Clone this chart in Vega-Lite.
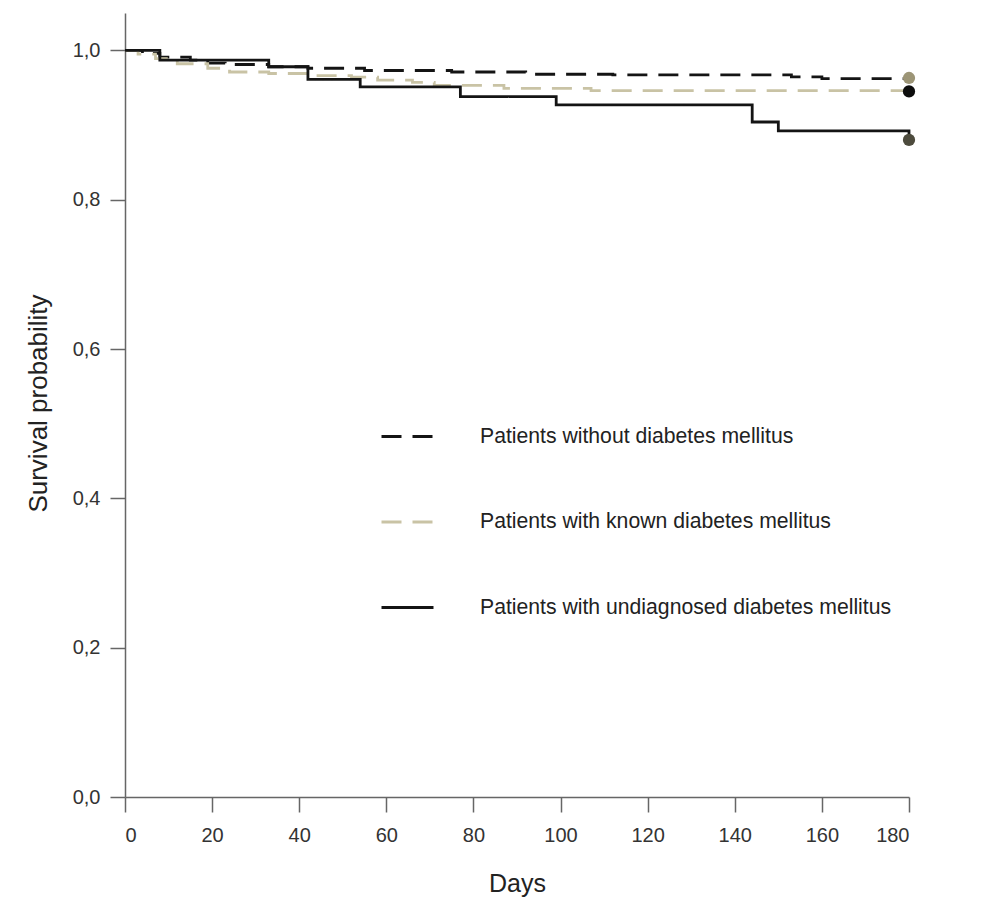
{
  "$schema": "https://vega.github.io/schema/vega-lite/v6.json",
  "width": 784,
  "height": 784,
  "autosize": {"type": "none"},
  "padding": {"left": 125, "top": 13, "right": 73, "bottom": 115},
  "background": "white",
  "config": {
    "view": {"stroke": null},
    "font": "Liberation Sans",
    "axis": {"labelFont": "Liberation Sans", "titleFont": "Liberation Sans"},
    "legend": {"labelFont": "Liberation Sans"}
  },
  "datasets": {
    "curves": [
      {"group": "Patients without diabetes mellitus", "day": 0, "p": 1.0},
      {"group": "Patients without diabetes mellitus", "day": 4, "p": 0.996},
      {"group": "Patients without diabetes mellitus", "day": 8, "p": 0.991},
      {"group": "Patients without diabetes mellitus", "day": 15, "p": 0.987},
      {"group": "Patients without diabetes mellitus", "day": 19, "p": 0.983},
      {"group": "Patients without diabetes mellitus", "day": 23, "p": 0.981},
      {"group": "Patients without diabetes mellitus", "day": 33, "p": 0.978},
      {"group": "Patients without diabetes mellitus", "day": 42, "p": 0.976},
      {"group": "Patients without diabetes mellitus", "day": 55, "p": 0.973},
      {"group": "Patients without diabetes mellitus", "day": 75, "p": 0.971},
      {"group": "Patients without diabetes mellitus", "day": 92, "p": 0.968},
      {"group": "Patients without diabetes mellitus", "day": 112, "p": 0.967},
      {"group": "Patients without diabetes mellitus", "day": 153, "p": 0.9645},
      {"group": "Patients without diabetes mellitus", "day": 160, "p": 0.962},
      {"group": "Patients without diabetes mellitus", "day": 180, "p": 0.963},
      {"group": "Patients with known diabetes mellitus", "day": 0, "p": 1.0},
      {"group": "Patients with known diabetes mellitus", "day": 3, "p": 0.995},
      {"group": "Patients with known diabetes mellitus", "day": 7, "p": 0.989},
      {"group": "Patients with known diabetes mellitus", "day": 12, "p": 0.982},
      {"group": "Patients with known diabetes mellitus", "day": 19, "p": 0.976},
      {"group": "Patients with known diabetes mellitus", "day": 24, "p": 0.971},
      {"group": "Patients with known diabetes mellitus", "day": 33, "p": 0.969},
      {"group": "Patients with known diabetes mellitus", "day": 42, "p": 0.966},
      {"group": "Patients with known diabetes mellitus", "day": 52, "p": 0.964},
      {"group": "Patients with known diabetes mellitus", "day": 58, "p": 0.96},
      {"group": "Patients with known diabetes mellitus", "day": 66, "p": 0.957},
      {"group": "Patients with known diabetes mellitus", "day": 71, "p": 0.953},
      {"group": "Patients with known diabetes mellitus", "day": 87, "p": 0.949},
      {"group": "Patients with known diabetes mellitus", "day": 107, "p": 0.946},
      {"group": "Patients with known diabetes mellitus", "day": 180, "p": 0.945},
      {"group": "Patients with undiagnosed diabetes mellitus", "day": 0, "p": 1.0},
      {"group": "Patients with undiagnosed diabetes mellitus", "day": 8, "p": 0.987},
      {"group": "Patients with undiagnosed diabetes mellitus", "day": 33, "p": 0.978},
      {"group": "Patients with undiagnosed diabetes mellitus", "day": 42, "p": 0.961},
      {"group": "Patients with undiagnosed diabetes mellitus", "day": 54, "p": 0.951},
      {"group": "Patients with undiagnosed diabetes mellitus", "day": 77, "p": 0.938},
      {"group": "Patients with undiagnosed diabetes mellitus", "day": 99, "p": 0.927},
      {"group": "Patients with undiagnosed diabetes mellitus", "day": 144, "p": 0.904},
      {"group": "Patients with undiagnosed diabetes mellitus", "day": 150, "p": 0.892},
      {"group": "Patients with undiagnosed diabetes mellitus", "day": 180, "p": 0.88}
    ],
    "ends": [
      {"group": "Patients without diabetes mellitus", "day": 180, "p": 0.963},
      {"group": "Patients with known diabetes mellitus", "day": 180, "p": 0.945},
      {"group": "Patients with undiagnosed diabetes mellitus", "day": 180, "p": 0.88}
    ]
  },
  "layer": [
    {
      "data": {"name": "curves"},
      "mark": {"type": "line", "interpolate": "step-after", "strokeWidth": 2.8},
      "encoding": {
        "x": {
          "field": "day", "type": "quantitative",
          "scale": {"domain": [0, 180], "nice": false, "zero": false},
          "axis": {
            "values": [0, 20, 40, 60, 80, 100, 120, 140, 160, 180],
            "format": "d", "grid": false,
            "tickSize": 15, "tickWidth": 1.5, "tickColor": "#666",
            "domainColor": "#666", "domainWidth": 1.5,
            "labelFontSize": 20, "labelColor": "#333", "labelPadding": 13,
            "title": "Days", "titleFontSize": 25, "titleFontWeight": "normal", "titleColor": "#222",
            "titleY": 74, "titleBaseline": "top"
          }
        },
        "y": {
          "field": "p", "type": "quantitative",
          "scale": {"domain": [0, 1.05], "nice": false},
          "axis": {
            "values": [0, 0.2, 0.4, 0.6, 0.8, 1.0],
            "labelExpr": "replace(format(datum.value, '.1f'), '.', ',')",
            "grid": false,
            "tickSize": 15, "tickWidth": 1.5, "tickColor": "#666",
            "domainColor": "#666", "domainWidth": 1.5,
            "labelFontSize": 20, "labelColor": "#333", "labelPadding": 10,
            "title": "Survival probability", "titleFontSize": 26, "titleFontWeight": "normal", "titleColor": "#222",
            "titleX": -87, "titleY": 390, "titleBaseline": "middle", "titleAngle": -90, "titleAlign": "center"
          }
        },
        "color": {
          "field": "group", "type": "nominal",
          "scale": {
            "domain": ["Patients without diabetes mellitus", "Patients with known diabetes mellitus", "Patients with undiagnosed diabetes mellitus"],
            "range": ["#141414", "#c9c3a5", "#141414"]
          },
          "legend": {
            "orient": "none", "legendX": 255, "legendY": 396, "title": null,
            "symbolType": "stroke", "symbolSize": 2704, "symbolStrokeWidth": 3,
            "labelFontSize": 21.2, "labelColor": "#222", "labelOffset": 45, "rowPadding": 47.5,
            "padding": 0, "labelLimit": 700
          }
        },
        "strokeDash": {
          "field": "group", "type": "nominal",
          "scale": {
            "domain": ["Patients without diabetes mellitus", "Patients with known diabetes mellitus", "Patients with undiagnosed diabetes mellitus"],
            "range": [[20, 11], [20, 11], [1, 0]]
          },
          "legend": {
            "orient": "none", "legendX": 255, "legendY": 396, "title": null,
            "symbolType": "stroke", "symbolSize": 2704, "symbolStrokeWidth": 3,
            "labelFontSize": 21.2, "labelColor": "#222", "labelOffset": 45, "rowPadding": 47.5,
            "padding": 0, "labelLimit": 700
          }
        }
      }
    },
    {
      "data": {"name": "ends"},
      "mark": {"type": "point", "filled": true, "size": 150, "opacity": 1},
      "encoding": {
        "x": {"field": "day", "type": "quantitative"},
        "y": {"field": "p", "type": "quantitative"},
        "fill": {
          "field": "group", "type": "nominal",
          "scale": {
            "domain": ["Patients without diabetes mellitus", "Patients with known diabetes mellitus", "Patients with undiagnosed diabetes mellitus"],
            "range": ["#9c9576", "#0d0d0d", "#4d4b3d"]
          },
          "legend": null
        }
      }
    }
  ]
}
